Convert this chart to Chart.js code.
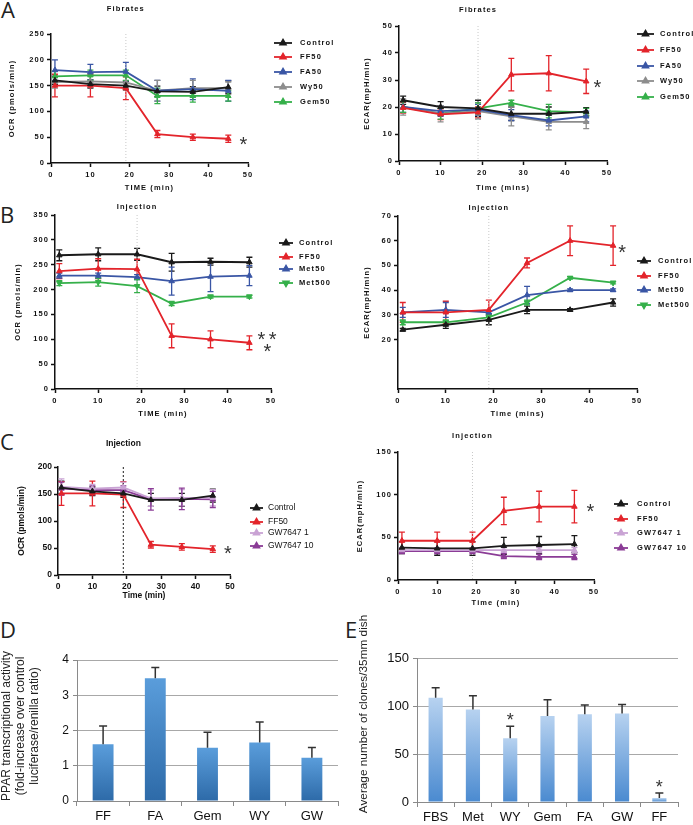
<!DOCTYPE html>
<html>
<head>
<meta charset="utf-8">
<script src="https://cdn.jsdelivr.net/npm/chart.js@4.4.1/dist/chart.umd.min.js"></script>
<style>
  body { margin: 0; background: #fff; width: 693px; height: 825px; position: relative; overflow: hidden; }
  .box { position: absolute; }
  .letter { position: absolute; font-family: "Open Sans", sans-serif; font-size: 22px; line-height: 22px; color: #222; }
</style>
</head>
<body>
<div class="letter" style="left:1px;top:-2px">A</div>
<div class="letter" style="left:0px;top:203px">B</div>
<div class="letter" style="left:0px;top:430px">C</div>
<div class="letter" style="left:0px;top:618px">D</div>
<div class="letter" style="left:345px;top:618px">E</div>

<div class="box" style="left:0;top:0;width:345px;height:200px"><canvas id="aOcr"></canvas></div>
<div class="box" style="left:345px;top:0;width:348px;height:200px"><canvas id="aEcar"></canvas></div>
<div class="box" style="left:0;top:200px;width:345px;height:222px"><canvas id="bOcr"></canvas></div>
<div class="box" style="left:345px;top:200px;width:348px;height:222px"><canvas id="bEcar"></canvas></div>
<div class="box" style="left:0;top:420px;width:345px;height:190px"><canvas id="cOcr"></canvas></div>
<div class="box" style="left:345px;top:420px;width:348px;height:195px"><canvas id="cEcar"></canvas></div>
<div class="box" style="left:0;top:615px;width:345px;height:210px"><canvas id="dBars"></canvas></div>
<div class="box" style="left:345px;top:610px;width:348px;height:215px"><canvas id="eBars"></canvas></div>

<script>
// measurement times (min)
const timePoints = [1, 10, 19, 27, 36, 45];

// A - fibrates, OCR
const aOcrControl = [160, 153, 150, 139, 138, 147];
const aOcrControlErr = [8, 8, 8, 10, 10, 12];
const aOcrFF50 = [150, 150, 145, 56, 50, 47];
const aOcrFF50Err = [22, 22, 22, 7, 6, 7];
const aOcrFA50 = [180, 176, 177, 140, 143, 140];
const aOcrFA50Err = [20, 15, 18, 20, 20, 20];
const aOcrWy50 = [157, 158, 156, 140, 145, 145];
const aOcrWy50Err = [12, 12, 12, 20, 15, 12];
const aOcrGem50 = [168, 170, 170, 130, 130, 130];
const aOcrGem50Err = [10, 10, 10, 15, 12, 10];

// A - fibrates, ECAR
const aEcarControl = [22.5, 20, 19.5, 17.5, 17.5, 18.3];
const aEcarControlErr = [1.5, 2, 3, 2.5, 2.5, 1.5];
const aEcarFF50 = [19.7, 17.3, 18, 32, 32.5, 29.5];
const aEcarFF50Err = [2, 2, 2, 6, 6.5, 4.5];
const aEcarFA50 = [20, 18.5, 19, 17, 15, 16.5];
const aEcarFA50Err = [2, 2, 2, 2, 2, 2];
const aEcarWy50 = [20, 17.5, 18.5, 16.5, 14.5, 14.5];
const aEcarWy50Err = [3, 3, 3, 3.5, 3, 2.5];
const aEcarGem50 = [20, 17.5, 19.5, 21.5, 18.5, 18];
const aEcarGem50Err = [2, 2, 2, 1, 2.5, 1.5];

// B - metformin, OCR
const bOcrControl = [269, 271, 271, 255, 256, 255];
const bOcrControlErr = [11, 13, 12, 18, 7, 10];
const bOcrFF50 = [237, 242, 241, 107, 100, 93];
const bOcrFF50Err = [15, 20, 20, 24, 17, 14];
const bOcrMet50 = [228, 228, 225, 217, 226, 228];
const bOcrMet50Err = [5, 5, 5, 28, 30, 20];
const bOcrMet500 = [213, 215, 207, 172, 186, 186];
const bOcrMet500Err = [5, 8, 13, 4, 3, 3];

// B - metformin, ECAR
const bEcarControl = [24, 26, 28, 32, 32, 35];
const bEcarControlErr = [0.5, 1.5, 2, 1.5, 0.5, 1.5];
const bEcarFF50 = [31, 31, 32, 51, 60, 58];
const bEcarFF50Err = [4, 4.5, 4, 2, 6, 8];
const bEcarMet50 = [31, 32, 31, 38, 40, 40];
const bEcarMet50Err = [2, 3, 0.5, 3.5, 0.5, 0.5];
const bEcarMet500 = [27, 27, 29, 35, 45, 43];
const bEcarMet500Err = [1, 1, 1, 1, 0.5, 0.5];

// C - GW7647, OCR
const cOcrControl = [162, 155, 151, 139, 139, 147];
const cOcrControlErr = [12, 8, 7, 12, 12, 12];
const cOcrFF50 = [151, 151, 149, 56, 52, 48];
const cOcrFF50Err = [22, 23, 24, 6, 6, 6];
const cOcrGw1 = [163, 160, 162, 142, 143, 143];
const cOcrGw1Err = [15, 8, 10, 15, 15, 15];
const cOcrGw10 = [160, 157, 157, 140, 141, 140];
const cOcrGw10Err = [12, 8, 8, 20, 20, 15];

// C - GW7647, ECAR
const cEcarControl = [38, 37, 37, 40, 41, 42];
const cEcarControlErr = [7, 8, 8, 10, 10, 10];
const cEcarFF50 = [46, 46, 46, 81, 86, 86];
const cEcarFF50Err = [10, 10, 10, 16, 18, 19];
const cEcarGw1 = [35, 35, 35, 35, 35, 35];
const cEcarGw1Err = [3, 3, 3, 3, 3, 3];
const cEcarGw10 = [34, 34, 34, 28, 27, 27];
const cEcarGw10Err = [3, 3, 3, 3, 3, 3];

// D - PPAR transcriptional activity
const dLabels = ['FF', 'FA', 'Gem', 'WY', 'GW'];
const dValues = [1.61, 3.48, 1.51, 1.66, 1.23];
const dErrs = [0.52, 0.31, 0.44, 0.58, 0.29];

// E - clones per dish
const eLabels = ['FBS', 'Met', 'WY', 'Gem', 'FA', 'GW', 'FF'];
const eValues = [108.5, 96.4, 66.4, 89.5, 91.3, 92.3, 4.1];
const eErrs = [10.5, 14.2, 12.6, 17, 9.7, 9.3, 5.2];

const BLACK = '#1a1a1a', RED = '#e3242b', BLUE = '#3a56a5', GRAY = '#8d8d8d',
      GREEN = '#35b04a', LILAC = '#c9a3d4', PURPLE = '#8b3c96';

const SANS = '"Liberation Sans", Arial, sans-serif';

// canvas letter spacing (the Prism panels use widely spaced text)
const spacingPlugin = {
  id: 'spacing',
  beforeUpdate(chart, args, opts) { chart.ctx.letterSpacing = opts.value || '0px'; },
  beforeDraw(chart, args, opts) { chart.ctx.letterSpacing = opts.value || '0px'; }
};

function drawErrors(chart, opts) {
  const ctx = chart.ctx;
  chart.data.datasets.forEach((ds, di) => {
    if (!ds.errs) return;
    const meta = chart.getDatasetMeta(di);
    const yScale = chart.scales[meta.yAxisID];
    ctx.save();
    ctx.strokeStyle = opts.color || ds.borderColor;
    ctx.lineWidth = opts.width || 1.2;
    meta.data.forEach((el, i) => {
      const raw = ds.data[i];
      const v = typeof raw === 'object' ? raw.y : raw;
      const e = ds.errs[i];
      const top = yScale.getPixelForValue(v + e);
      const bot = opts.upOnly ? el.y : yScale.getPixelForValue(v - e);
      const c = opts.cap / 2;
      ctx.beginPath();
      ctx.moveTo(el.x, top); ctx.lineTo(el.x, bot);
      ctx.moveTo(el.x - c, top); ctx.lineTo(el.x + c, top);
      if (!opts.upOnly) { ctx.moveTo(el.x - c, bot); ctx.lineTo(el.x + c, bot); }
      ctx.stroke();
    });
    ctx.restore();
  });
}

const errorBarPlugin = {
  id: 'errorBars',
  beforeDatasetsDraw(chart, args, opts) { if (opts.layer === 'before') drawErrors(chart, opts); },
  afterDatasetsDraw(chart, args, opts) { if (opts.layer === 'after') drawErrors(chart, opts); }
};

function drawTriangle(ctx, x, y, r, rotation) {
  if (Chart.helpers && Chart.helpers.drawPoint) {
    Chart.helpers.drawPoint(ctx, { pointStyle: 'triangle', rotation: rotation, radius: r, borderWidth: 1 }, x, y);
  }
}

// titles, injection marker, asterisks, legends, free labels
const decorPlugin = {
  id: 'decor',
  beforeDatasetsDraw(chart, args, o) {
    if (!o.inject) return;
    const { ctx, chartArea, scales } = chart;
    const x = scales.x.getPixelForValue(o.inject.x);
    ctx.save();
    ctx.strokeStyle = o.inject.color;
    ctx.lineWidth = o.inject.width;
    ctx.setLineDash(o.inject.dash);
    ctx.beginPath();
    ctx.moveTo(x, chartArea.top);
    ctx.lineTo(x, chartArea.bottom);
    ctx.stroke();
    ctx.restore();
  },
  afterDraw(chart, args, o) {
    const { ctx, chartArea, scales } = chart;
    ctx.save();
    ctx.fillStyle = '#111';
    if (o.title) {
      ctx.font = o.titleFont;
      ctx.textAlign = 'center';
      ctx.textBaseline = 'middle';
      ctx.fillText(o.title, scales.x.getPixelForValue(o.inject.x), chartArea.top - o.titleGap);
    }
    (o.stars || []).forEach(s => {
      ctx.font = o.starFont;
      ctx.fillStyle = '#333';
      ctx.textAlign = 'center';
      ctx.textBaseline = 'alphabetic';
      const px = scales.x.getPixelForValue(s.x);
      const py = scales.y.getPixelForValue(s.y);
      ctx.fillText('*', px, py + o.starShift);
    });
    if (o.legend) {
      const lg = o.legend;
      chart.data.datasets.forEach((ds, i) => {
        const y = lg.ys[i];
        ctx.strokeStyle = ds.borderColor;
        ctx.fillStyle = ds.borderColor;
        ctx.lineWidth = 1.8;
        ctx.beginPath();
        ctx.moveTo(lg.x, y); ctx.lineTo(lg.x + lg.len, y);
        ctx.stroke();
        drawTriangle(ctx, lg.x + lg.len / 2, y, 3.2, ds.pointRotation || 0);
        ctx.fillStyle = '#111';
        ctx.font = lg.font;
        ctx.textAlign = 'left';
        ctx.textBaseline = 'middle';
        ctx.fillText(ds.label, lg.textX, y);
      });
    }
    (o.texts || []).forEach(t => {
      ctx.save();
      ctx.font = t.font;
      ctx.fillStyle = '#222';
      ctx.textAlign = 'center';
      ctx.textBaseline = 'middle';
      ctx.translate(t.x, t.y);
      ctx.rotate(-Math.PI / 2);
      t.lines.forEach((line, k) => ctx.fillText(line, 0, k * t.lineGap));
      ctx.restore();
    });
    ctx.restore();
  }
};

Chart.register(spacingPlugin, errorBarPlugin, decorPlugin);

function series(label, color, values, errs, rotation) {
  return {
    label: label,
    data: values.map((v, i) => ({ x: timePoints[i], y: v })),
    errs: errs,
    borderColor: color,
    backgroundColor: color,
    pointBackgroundColor: color,
    pointBorderColor: color,
    pointStyle: 'triangle',
    pointRotation: rotation || 0,
    pointRadius: 3.2,
    pointBorderWidth: 1,
    borderWidth: 1.8,
    tension: 0
  };
}

function timeChart(id, p) {
  const bold = { family: SANS, size: p.size, weight: 'bold' };
  const half = p.size * 0.6;
  return new Chart(document.getElementById(id), {
    type: 'line',
    data: { datasets: p.datasets },
    options: {
      responsive: true,
      maintainAspectRatio: false,
      animation: false,
      devicePixelRatio: 1,
      layout: { padding: { top: p.pT, right: p.pR, left: 0, bottom: 0 }, autoPadding: false },
      plugins: {
        legend: { display: false },
        tooltip: { enabled: false },
        spacing: { value: p.spacing },
        errorBars: { layer: 'before', width: 1.3, cap: 6 },
        decor: {
          title: p.title,
          titleFont: 'bold ' + p.size + 'px ' + SANS,
          titleGap: p.titleGap,
          inject: p.inject,
          stars: p.stars,
          starFont: '20px ' + SANS,
          starShift: 11,
          legend: p.legend
        }
      },
      scales: {
        x: {
          type: 'linear', min: 0, max: 50,
          ticks: { stepSize: 10, font: bold, color: '#111', padding: 3, maxRotation: 0 },
          grid: { drawOnChartArea: false, tickLength: 4, tickColor: '#111', tickWidth: 1.5 },
          border: { color: '#111', width: 1.5 },
          title: { display: true, text: p.xTitle, font: bold, color: '#111', padding: { top: 0, bottom: p.xTitleBottom - half } },
          afterFit: s => { s.height = p.xH; s.paddingLeft = 0; s.paddingRight = 0; }
        },
        y: {
          min: 0, max: p.yMax,
          ticks: { stepSize: p.yStep, font: bold, color: '#111', padding: 2 },
          afterBuildTicks: s => { if (p.yFrom) s.ticks = s.ticks.filter(t => t.value >= p.yFrom); },
          grid: { drawOnChartArea: false, tickLength: 4, tickColor: '#111', tickWidth: 1.5 },
          border: { color: '#111', width: 1.5 },
          title: { display: true, text: p.yTitle, font: bold, color: '#111', padding: { top: p.yTitleLeft - half, bottom: 0 } },
          afterFit: s => { s.width = p.yW; s.paddingTop = 0; s.paddingBottom = 0; }
        }
      }
    }
  });
}

const prismInject = { x: 19, color: '#c8c8c8', width: 1, dash: [1, 2] };
const prismLegendFont = 'bold 7.5px ' + SANS;

timeChart('aOcr', {
  datasets: [
    series('Control', BLACK, aOcrControl, aOcrControlErr),
    series('FF50', RED, aOcrFF50, aOcrFF50Err),
    series('FA50', BLUE, aOcrFA50, aOcrFA50Err),
    series('Wy50', GRAY, aOcrWy50, aOcrWy50Err),
    series('Gem50', GREEN, aOcrGem50, aOcrGem50Err)
  ],
  size: 7.5, spacing: '1.1px', yW: 51, xH: 37, pT: 34, pR: 97,
  yMax: 250, yStep: 50, yTitle: 'OCR (pmols/min)', yTitleLeft: 12,
  xTitle: 'TIME (min)', xTitleBottom: 12,
  title: 'Fibrates', titleGap: 25, inject: prismInject,
  stars: [{ x: 49, y: 45 }],
  legend: { x: 274, len: 18, textX: 300, ys: [43, 57, 72, 87, 102], font: prismLegendFont }
});

timeChart('aEcar', {
  datasets: [
    series('Control', BLACK, aEcarControl, aEcarControlErr),
    series('FF50', RED, aEcarFF50, aEcarFF50Err),
    series('FA50', BLUE, aEcarFA50, aEcarFA50Err),
    series('Wy50', GRAY, aEcarWy50, aEcarWy50Err),
    series('Gem50', GREEN, aEcarGem50, aEcarGem50Err)
  ],
  size: 7.5, spacing: '1.1px', yW: 54, xH: 39, pT: 26, pR: 86,
  yMax: 50, yStep: 10, yTitle: 'ECAR(mpH/min)', yTitleLeft: 22,
  xTitle: 'Time (mins)', xTitleBottom: 12,
  title: 'Fibrates', titleGap: 16, inject: prismInject,
  stars: [{ x: 47.8, y: 29 }],
  legend: { x: 292, len: 17, textX: 315, ys: [34, 50, 66, 81, 97], font: prismLegendFont }
});

timeChart('bOcr', {
  datasets: [
    series('Control', BLACK, bOcrControl, bOcrControlErr),
    series('FF50', RED, bOcrFF50, bOcrFF50Err),
    series('Met50', BLUE, bOcrMet50, bOcrMet50Err),
    series('Met500', GREEN, bOcrMet500, bOcrMet500Err, 180)
  ],
  size: 7.5, spacing: '1.1px', yW: 55, xH: 33, pT: 15, pR: 74,
  yMax: 350, yStep: 50, yTitle: 'OCR (pmols/min)', yTitleLeft: 18,
  xTitle: 'TIME (min)', xTitleBottom: 8,
  title: 'Injection', titleGap: 8, inject: prismInject,
  stars: [{ x: 47.9, y: 108 }, { x: 50.5, y: 108 }, { x: 49.3, y: 84 }],
  legend: { x: 279, len: 14, textX: 299, ys: [43, 57, 69, 83], font: prismLegendFont }
});

timeChart('bEcar', {
  datasets: [
    series('Control', BLACK, bEcarControl, bEcarControlErr),
    series('FF50', RED, bEcarFF50, bEcarFF50Err),
    series('Met50', BLUE, bEcarMet50, bEcarMet50Err),
    series('Met500', GREEN, bEcarMet500, bEcarMet500Err, 180)
  ],
  size: 7.5, spacing: '1.1px', yW: 53, xH: 33, pT: 16, pR: 56,
  yMax: 70, yStep: 10, yFrom: 20, yTitle: 'ECAR(mpH/min)', yTitleLeft: 22,
  xTitle: 'Time (mins)', xTitleBottom: 8,
  title: 'Injection', titleGap: 8, inject: prismInject,
  stars: [{ x: 47, y: 57 }],
  legend: { x: 292, len: 14, textX: 313, ys: [61, 76, 90, 105], font: prismLegendFont }
});

timeChart('cOcr', {
  datasets: [
    series('Control', BLACK, cOcrControl, cOcrControlErr),
    series('FF50', RED, cOcrFF50, cOcrFF50Err),
    series('GW7647 1', LILAC, cOcrGw1, cOcrGw1Err),
    series('GW7647 10', PURPLE, cOcrGw10, cOcrGw10Err)
  ],
  size: 8.5, spacing: '0px', yW: 58, xH: 35, pT: 47, pR: 115,
  yMax: 200, yStep: 50, yTitle: 'OCR (pmols/min)', yTitleLeft: 22,
  xTitle: 'Time (min)', xTitleBottom: 14,
  title: 'Injection', titleGap: 23,
  inject: { x: 19, color: '#444', width: 1.2, dash: [2, 2] },
  stars: [{ x: 49.4, y: 48 }],
  legend: { x: 250, len: 13, textX: 268, ys: [88, 102, 113, 126], font: '8.5px ' + SANS }
});

timeChart('cEcar', {
  datasets: [
    series('Control', BLACK, cEcarControl, cEcarControlErr),
    series('FF50', RED, cEcarFF50, cEcarFF50Err),
    series('GW7647 1', LILAC, cEcarGw1, cEcarGw1Err),
    series('GW7647 10', PURPLE, cEcarGw10, cEcarGw10Err)
  ],
  size: 7.5, spacing: '1.1px', yW: 53, xH: 35, pT: 32, pR: 99,
  yMax: 150, yStep: 50, yTitle: 'ECAR(mpH/min)', yTitleLeft: 15,
  xTitle: 'Time (min)', xTitleBottom: 12,
  title: 'Injection', titleGap: 16, inject: prismInject,
  stars: [{ x: 49.2, y: 86 }],
  legend: { x: 269, len: 14, textX: 292, ys: [84, 99, 113, 128], font: prismLegendFont }
});

function barGradient(top, bottom) {
  return (c) => {
    const chart = c.chart;
    if (c.type !== 'data' || !chart.chartArea || !chart.scales.y) return bottom;
    const y = chart.scales.y;
    const y0 = y.getPixelForValue(0), y1 = y.getPixelForValue(c.raw);
    if (!isFinite(y0) || !isFinite(y1) || y0 === y1) return bottom;
    const g = chart.ctx.createLinearGradient(0, y1, 0, y0);
    g.addColorStop(0, top);
    g.addColorStop(1, bottom);
    return g;
  };
}

function barChart(id, p) {
  return new Chart(document.getElementById(id), {
    type: 'bar',
    data: {
      labels: p.labels,
      datasets: [{
        label: p.name,
        data: p.values,
        errs: p.errs,
        backgroundColor: barGradient(p.top, p.bottom),
        borderColor: p.bottom,
        borderWidth: 0,
        barPercentage: p.barPct,
        categoryPercentage: 1
      }]
    },
    options: {
      responsive: true,
      maintainAspectRatio: false,
      animation: false,
      devicePixelRatio: 1,
      layout: { padding: { top: p.pT, right: p.pR, left: 0, bottom: 0 }, autoPadding: false },
      plugins: {
        legend: { display: false },
        tooltip: { enabled: false },
        errorBars: { layer: 'after', width: 1.5, cap: 8, upOnly: true, color: '#333' },
        decor: {
          stars: p.stars,
          starFont: '18px ' + SANS,
          starShift: 11,
          texts: [p.yText]
        }
      },
      scales: {
        x: {
          ticks: { font: { family: SANS, size: 13 }, color: '#111', padding: 3 },
          grid: { drawOnChartArea: false, offset: true, tickLength: 5, tickColor: '#8a8a8a' },
          border: { color: '#8a8a8a', width: 1 },
          afterFit: s => { s.height = p.xH; s.paddingLeft = 0; s.paddingRight = 0; }
        },
        y: {
          min: 0, max: p.yMax,
          ticks: { stepSize: p.yStep, font: { family: SANS, size: p.tickSize }, color: '#111', padding: 4 },
          grid: { color: '#a8a8a8', lineWidth: 1, tickLength: 4, tickColor: '#8a8a8a' },
          border: { color: '#8a8a8a', width: 1 },
          afterFit: s => { s.width = p.yW; s.paddingTop = 0; s.paddingBottom = 0; }
        }
      }
    }
  });
}

barChart('dBars', {
  labels: dLabels, values: dValues, errs: dErrs, name: 'PPAR activity',
  top: '#5a9ddb', bottom: '#2d6aa8', barPct: 0.4,
  yMax: 4, yStep: 1, tickSize: 12, yW: 77, xH: 24, pT: 45, pR: 7,
  stars: [],
  yText: { x: 7, y: 111, lineGap: 14, font: '12px ' + SANS,
           lines: ['PPAR transcriptional activity', '(fold-increase over control', 'luciferase/renilla ratio)'] }
});

barChart('eBars', {
  labels: eLabels, values: eValues, errs: eErrs, name: 'Clones',
  top: '#b7d2f0', bottom: '#4a8ad0', barPct: 0.38,
  yMax: 150, yStep: 50, tickSize: 13, yW: 72, xH: 23, pT: 48, pR: 15,
  stars: [{ x: 2, y: 91 }, { x: 6, y: 21 }],
  yText: { x: 19, y: 104, lineGap: 14, font: '11.8px ' + SANS,
           lines: ['Average number of clones/35mm dish'] }
});
</script>
</body>
</html>
